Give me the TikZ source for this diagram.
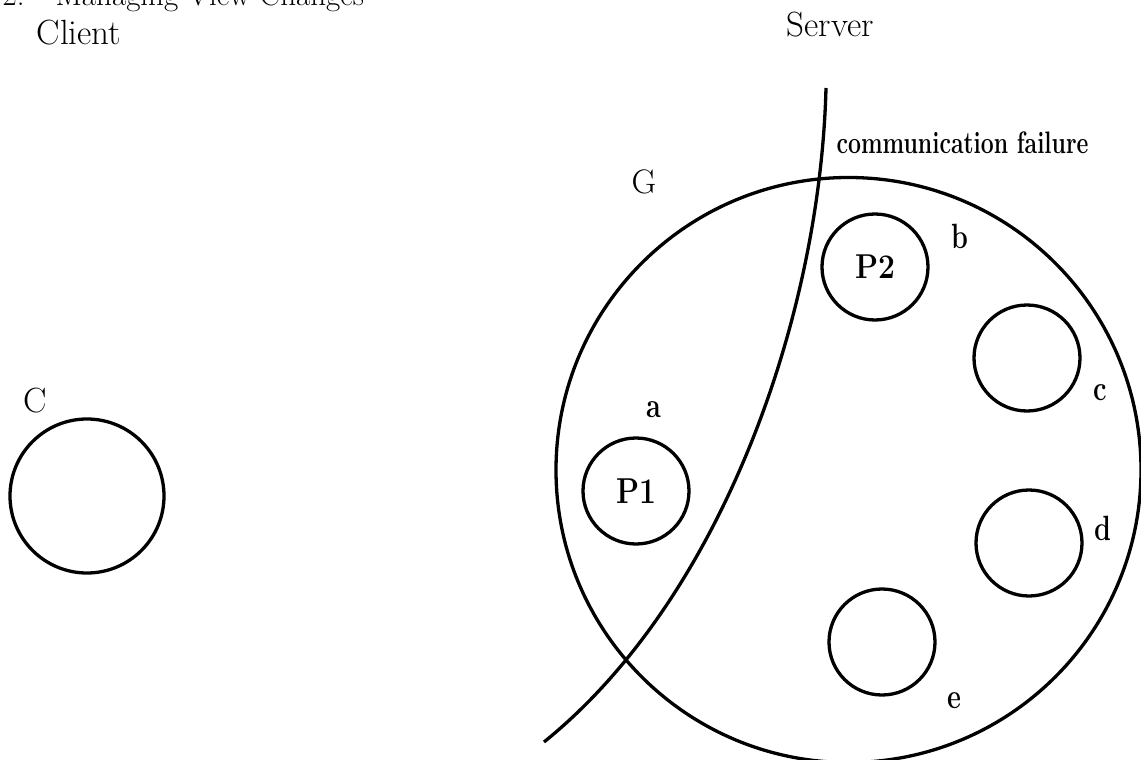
\documentclass[tikz,border=0pt]{standalone}
\usepackage{fontspec}
\begin{document}
\begin{tikzpicture}[x=1pt,y=-1pt,line width=3.3pt,
  proc/.style={draw,circle,minimum size=106pt,inner sep=0pt,font=\bfseries\fontsize{30}{30}\selectfont},
  bigtxt/.style={inner sep=0pt,anchor=base west,font=\fontsize{35}{35}\selectfont},
  lbl/.style={inner sep=0pt,anchor=base west,font=\bfseries\fontsize{27}{27}\selectfont}]
\useasboundingbox (0,0) rectangle (1141,760);
\clip (0,0) rectangle (1141,760);
% header and titles
\node[bigtxt,font=\fontsize{31}{31}\selectfont] (hdr) at (-21,6) {4.2.\quad Managing View Changes};
\node[bigtxt] (client) at (35,45) {Client};
\node[bigtxt] (server) at (785,37) {Server};
% client
\node[bigtxt] (clab) at (22,412) {C};
\node[draw,circle,minimum size=154pt,inner sep=0pt] (C) at (87,496) {};
% group
\node[draw,circle,minimum size=585pt,inner sep=0pt] (G) at (848.5,470) {};
\node[bigtxt,font=\fontsize{34}{34}\selectfont] (glab) at (630,193) {G};
\node[proc] (P1) at (636,491) {\scalebox{1}[1.2]{P1}};
\node[proc] (P2) at (875,267) {\scalebox{1}[1.15]{P2}};
\node[proc] (pc) at (1027,358) {};
\node[proc] (pd) at (1029,543) {};
\node[proc] (pe) at (882,642) {};
\node[lbl] (la) at (645,417) {\scalebox{1}[1.3]{a}};
\node[lbl] (lb) at (950,248) {\scalebox{1}[1.3]{b}};
\node[lbl] (lc) at (1092,400) {\scalebox{1}[1.3]{c}};
\node[lbl] (ld) at (1093,540) {\scalebox{1}[1.3]{d}};
\node[lbl] (le) at (946,708) {\scalebox{1}[1.3]{e}};
% failure line
\coordinate (fa) at (544,742);
\coordinate (fb) at (826,88);
\draw (fa) .. controls (720,600) and (820,320) .. (fb);
\node[lbl,font=\bfseries\fontsize{23}{23}\selectfont] (cf) at (835,153) {\scalebox{1}[1.35]{communication failure}};
\end{tikzpicture}
\end{document}
